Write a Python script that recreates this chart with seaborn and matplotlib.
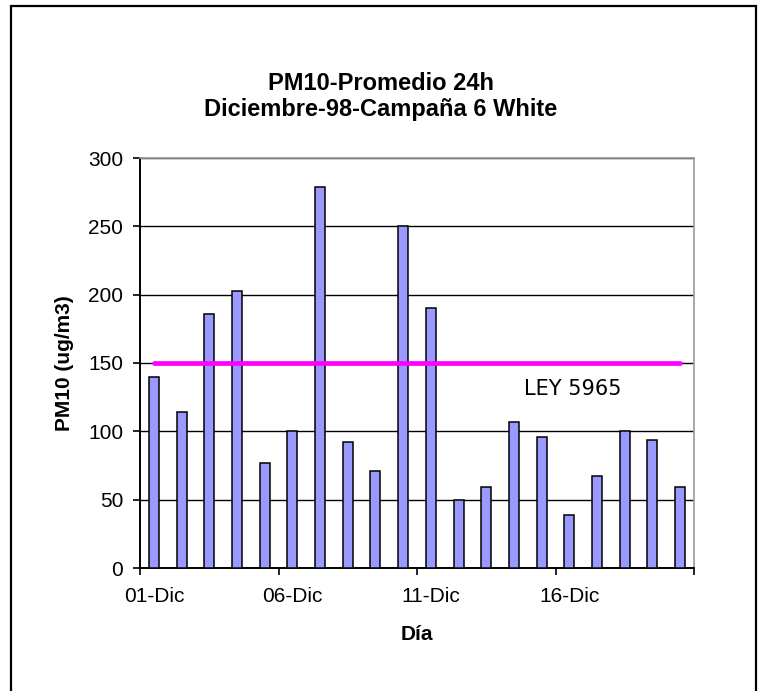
import numpy as np
import pandas as pd
import matplotlib
matplotlib.use("Agg")
import matplotlib.pyplot as plt
import matplotlib.patches as patches
import seaborn as sns

#%% Data

dias = ['01-Dic', '02-Dic', '03-Dic', '04-Dic', '05-Dic', '06-Dic', '07-Dic',
        '08-Dic', '09-Dic', '10-Dic', '11-Dic', '12-Dic', '13-Dic', '14-Dic',
        '15-Dic', '16-Dic', '17-Dic', '18-Dic', '19-Dic', '20-Dic']
pm10 = [140, 114, 186, 203, 77, 100, 279, 92, 71, 250,
        190, 50, 59, 107, 96, 39, 67, 100, 94, 59]
ley = [150] * len(dias)  # norma LEY 5965
yticks = [0, 50, 100, 150, 200, 250, 300]

df = pd.DataFrame({'Dia': dias, 'PM10': pm10, 'Ley': ley})

#%% Plot

sns.set_style('white')
plt.rcParams['font.family'] = ['Liberation Sans', 'DejaVu Sans']
plt.rcParams.update({'text.color': 'black', 'axes.labelcolor': 'black',
                     'xtick.color': 'black', 'ytick.color': 'black'})

fig = plt.figure(figsize=(7.65, 6.91), dpi=100)
ax = fig.add_axes([140 / 765, 1 - 568 / 691, 554 / 765, 410 / 691])

sns.barplot(data=df, x='Dia', y='PM10', color='#9999FF', saturation=1,
            width=0.36, edgecolor='black', linewidth=1.1, ax=ax, zorder=3)
x = np.arange(len(dias))
ax.plot(x, df['Ley'], color='#FF00FF', lw=3.4, zorder=4)
ax.text(13.35, 131, 'LEY 5965', family='DejaVu Sans', fontsize=15,
        va='center', ha='left', zorder=5)

ax.set_xlim(-0.5, len(dias) - 0.5)
ax.set_ylim(0, 300)
ax.set_yticks(yticks)
ax.yaxis.grid(True, color='black', lw=1.0, zorder=1)
ax.set_axisbelow(True)

# tick marks between categories every 5 days, labels on the day itself
ax.set_xticks(np.arange(-0.5, len(dias), 5))
ax.set_xticklabels([])
ax.set_xticks(x[::5], minor=True)
ax.set_xticklabels([dias[i] for i in x[::5]], minor=True)
ax.tick_params(axis='x', which='major', direction='out', length=5, width=1.2,
               color='black', bottom=True)
ax.tick_params(axis='x', which='minor', length=0, pad=14, labelsize=15)
ax.tick_params(axis='y', direction='out', length=5, width=1.2, color='black',
               left=True, pad=7, labelsize=15)

for s in ['left', 'bottom']:
    ax.spines[s].set_color('black')
    ax.spines[s].set_linewidth(1.4)
for s in ['top', 'right']:
    ax.spines[s].set_color('#999999')
    ax.spines[s].set_linewidth(1.2)

ax.set_xlabel('Día', fontsize=15, fontweight='bold', labelpad=13)
ax.set_ylabel('PM10 (ug/m3)', fontsize=15, fontweight='bold', labelpad=10)
ax.set_title('PM10-Promedio 24h\nDiciembre-98-Campaña 6 White',
             fontsize=17, fontweight='bold', pad=30, linespacing=1.2,
             x=(381 - 140) / 554)

# outer chart frame
frame = patches.Rectangle((11 / 765, -0.05), 745 / 765, 1.05 - 6 / 691,
                          transform=fig.transFigure, fill=False,
                          edgecolor='black', lw=1.6, clip_on=False)
fig.patches.append(frame)

fig.savefig('out.png', dpi=100)
